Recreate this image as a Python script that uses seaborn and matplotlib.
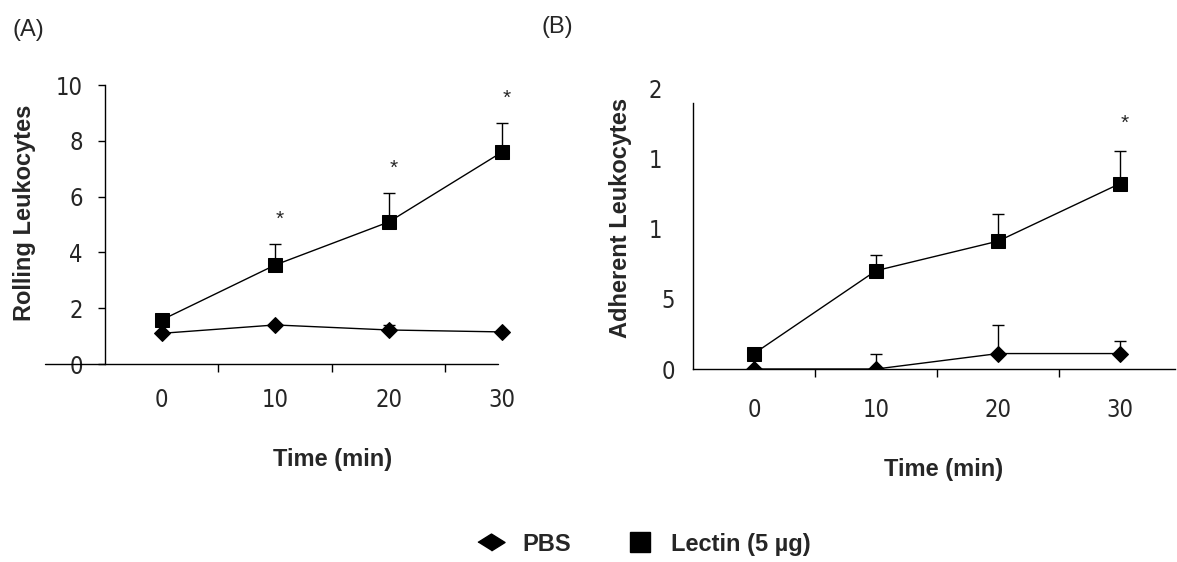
import numpy as np
import pandas as pd
import matplotlib
matplotlib.use('Agg')
import matplotlib.pyplot as plt
import seaborn as sns
from matplotlib.lines import Line2D
from matplotlib.transforms import ScaledTranslation

sns.set_style('white')
plt.rcParams['font.family'] = ['Liberation Sans', 'DejaVu Sans']
TICKFONT = dict(family=['DejaVu Sans'], fontstretch='condensed', fontsize=17)

times = ['0', '10', '20', '30']

# panel A - rolling leukocytes
rolling_pbs = [1.1, 1.4, 1.22, 1.15]
rolling_pbs_err = [0.0, 0.0, 0.18, 0.0]
rolling_lectin = [1.58, 3.55, 5.09, 7.6]
rolling_lectin_err = [0.0, 0.75, 1.04, 1.04]
rolling_star = [False, True, True, True]

# panel B - adherent leukocytes
adherent_pbs = [0.0, 0.0, 0.11, 0.11]
adherent_pbs_err = [0.0, 0.11, 0.2, 0.09]
adherent_lectin = [0.11, 0.70, 0.91, 1.32]
adherent_lectin_err = [0.0, 0.11, 0.19, 0.23]
adherent_star = [False, False, False, True]

adherent_ticks = [0, 0.5, 1, 1.5, 2]
adherent_ticklabels = ['0', '5', '1', '1', '2']


def draw_panel(ax, pbs, pbs_err, lectin, lectin_err, stars, star_off):
    pos = np.arange(len(times))
    df = pd.DataFrame({'pos': np.concatenate([pos, pos]),
                       'val': pbs + lectin,
                       'grp': ['PBS'] * 4 + ['Lectin'] * 4})
    sns.lineplot(data=df[df.grp == 'PBS'], x='pos', y='val', marker='D',
                 color='black', markersize=7.7, linewidth=1, ax=ax,
                 markeredgecolor='black', zorder=3)
    sns.lineplot(data=df[df.grp == 'Lectin'], x='pos', y='val', marker='s',
                 color='black', markersize=9.5, linewidth=1, ax=ax,
                 markeredgecolor='black', zorder=3)
    for vals, errs in [(pbs, pbs_err), (lectin, lectin_err)]:
        ax.errorbar(pos, vals, yerr=[np.zeros(4), errs], fmt='none',
                    ecolor='black', elinewidth=1, capsize=4.5, capthick=1,
                    zorder=2)
    for p, v, e, s in zip(pos, lectin, lectin_err, stars):
        if s:
            ax.text(p + 0.04, v + e + star_off, '*', ha='center',
                    va='center', fontsize=15)
    ax.set_xticks(pos)
    ax.set_xticklabels(times, **TICKFONT)
    ax.set_xticks(pos[:-1] + 0.5, minor=True)
    ax.tick_params(axis='x', which='minor', length=6, width=1,
                   direction='out', color='black', bottom=True)
    for sp in ['top', 'right']:
        ax.spines[sp].set_visible(False)
    for sp in ['left', 'bottom']:
        ax.spines[sp].set_color('black')
        ax.spines[sp].set_linewidth(1)
    ax.set_xlabel('Time (min)', fontsize=17, fontweight='bold', va='center')


fig = plt.figure(figsize=(11.77, 5.62), dpi=100)

# ---- panel A
axA = fig.add_axes([0.0892, 0.3523, 0.3857, 0.4964])
draw_panel(axA, rolling_pbs, rolling_pbs_err, rolling_lectin,
           rolling_lectin_err, rolling_star, 0.9)
axA.set_xlim(-0.5, 3.5)
axA.set_ylim(0, 10)
axA.set_yticks([0, 2, 4, 6, 8, 10])
axA.set_yticklabels(['0', '2', '4', '6', '8', '10'], **TICKFONT)
axA.tick_params(axis='y', which='major', length=5, width=1, direction='out',
                left=True, color='black', pad=11)
axA.tick_params(axis='x', which='major', length=0, pad=17)
axA.spines['bottom'].set_visible(False)
axA.axhline(0, xmin=-0.132, xmax=0.866, color='black', lw=1, clip_on=False)
axA.xaxis.set_label_coords(0.502, -0.344)
axA.set_ylabel('Rolling Leukocytes', fontsize=17, fontweight='bold',
               va='center')
axA.yaxis.set_label_coords(-0.178, 0.541)

# ---- panel B
axB = fig.add_axes([0.5888, 0.3434, 0.4095, 0.5])
draw_panel(axB, adherent_pbs, adherent_pbs_err, adherent_lectin,
           adherent_lectin_err, adherent_star, 0.2)
axB.set_xlim(-0.5, 3.45)
axB.set_ylim(0, 2)
axB.set_yticks(adherent_ticks)
axB.set_yticklabels(adherent_ticklabels, **TICKFONT)
axB.set_yticks([0], minor=True)
axB.spines['left'].set_bounds(0, 1.89)
axB.tick_params(axis='y', which='major', length=0, pad=13)
axB.tick_params(axis='y', which='minor', length=5, width=1,
                direction='out', left=True, color='black')
axB.tick_params(axis='x', which='major', length=0, pad=21)
shift = ScaledTranslation(-0.13, 0, fig.dpi_scale_trans)
for lab in axB.get_yticklabels()[2:]:
    lab.set_transform(lab.get_transform() + shift)
axB.xaxis.set_label_coords(0.519, -0.359)
axB.set_ylabel('Adherent Leukocytes', fontsize=17, fontweight='bold',
               va='center')
axB.yaxis.set_label_coords(-0.151, 0.536)

fig.text(0.011, 0.947, '(A)', fontsize=17, va='center')
fig.text(0.460, 0.952, '(B)', fontsize=17, va='center')

wide_diamond = [(-1.6, 0), (0, 1), (1.6, 0), (0, -1)]
handles = [Line2D([], [], marker=wide_diamond, color='black',
                  linestyle='none', markersize=19.5),
           Line2D([], [], marker='s', color='black', linestyle='none',
                  markersize=14)]
fig.legend(handles, ['PBS', 'Lectin (5 µg)'], loc='center',
           bbox_to_anchor=(0.5455, 0.032), ncol=2, frameon=False,
           prop={'size': 17, 'weight': 'bold'}, columnspacing=2.2,
           handlelength=1.5, handletextpad=0.55)

fig.savefig('out.png', dpi=100)
